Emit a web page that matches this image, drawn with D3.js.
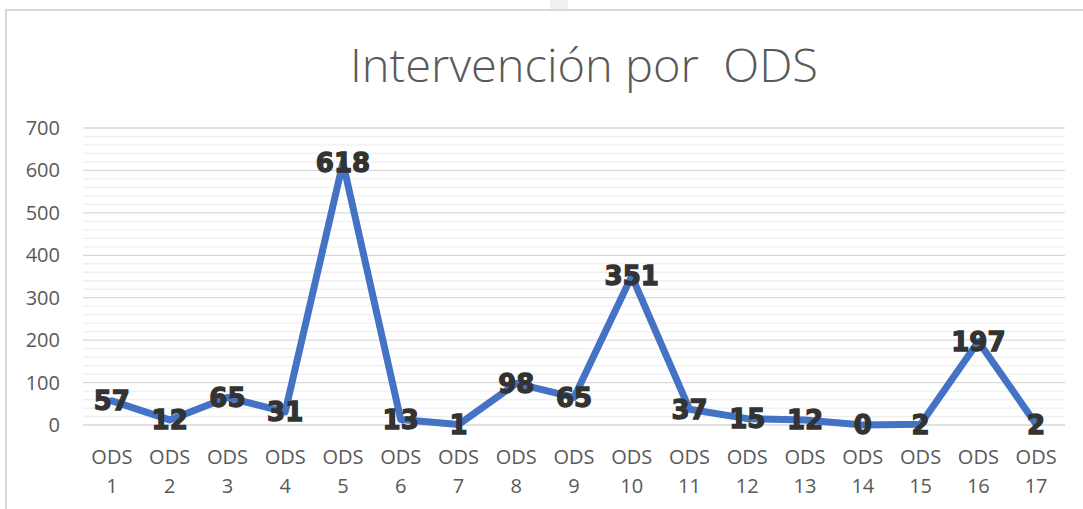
<!DOCTYPE html>
<html><head><meta charset="utf-8">
<script src="https://cdn.jsdelivr.net/npm/d3@7"></script>
<style>body{margin:0;background:#fff;}svg{display:block;}</style>
</head><body>
<svg id="c" width="1083" height="509"></svg>
<script>
const categories = ["ODS 1","ODS 2","ODS 3","ODS 4","ODS 5","ODS 6","ODS 7","ODS 8","ODS 9","ODS 10","ODS 11","ODS 12","ODS 13","ODS 14","ODS 15","ODS 16","ODS 17"];
const values = [57,12,65,31,618,13,1,98,65,351,37,15,12,0,2,197,2];
const yTicks = [0,100,200,300,400,500,600,700];
const minorTicks = d3.range(0,701,20);
const title = "Intervención por  ODS";

const svg = d3.select("#c");
svg.append("rect").attr("x",550).attr("y",0).attr("width",18).attr("height",9).attr("fill","#f0f0f0");
svg.append("path").attr("d","M6,509 V10 H1083").attr("fill","none").attr("stroke","#d9d9d9").attr("stroke-width",2);

const m = {l:83, r:1065, t:128, b:425};
const x = d3.scaleBand().domain(categories).range([m.l,m.r]);
const y = d3.scaleLinear().domain([0,700]).range([m.b,m.t]);

svg.append("g").selectAll("line").data(minorTicks.filter(d=>d%100!==0)).join("line")
  .attr("x1",m.l).attr("x2",m.r).attr("y1",d=>y(d)).attr("y2",d=>y(d))
  .attr("stroke","#efefef").attr("stroke-width",1.3);
svg.append("g").selectAll("line").data(yTicks).join("line")
  .attr("x1",m.l).attr("x2",m.r).attr("y1",d=>y(d)).attr("y2",d=>y(d))
  .attr("stroke","#d9d9d9").attr("stroke-width",1.3);

svg.append("g").selectAll("text").data(yTicks).join("text")
  .attr("x",60).attr("y",d=>y(d)).attr("dy","0.35em").attr("text-anchor","end")
  .attr("font-family","Open Sans").attr("font-size",20).attr("fill","#595959").text(d=>d);

const xl = svg.append("g").selectAll("text").data(categories).join("text")
  .attr("x",d=>x(d)+x.bandwidth()/2).attr("text-anchor","middle")
  .attr("font-family","Open Sans").attr("font-size",20).attr("fill","#595959");
xl.append("tspan").attr("x",d=>x(d)+x.bandwidth()/2).attr("y",464).text(d=>d.split(" ")[0]);
xl.append("tspan").attr("x",d=>x(d)+x.bandwidth()/2).attr("y",493).text(d=>d.split(" ")[1]);

const line = d3.line().x((d,i)=>x(categories[i])+x.bandwidth()/2).y(d=>y(d));
svg.append("path").datum(values).attr("d",line).attr("fill","none")
  .attr("stroke","#4472C4").attr("stroke-width",7).attr("stroke-linejoin","round").attr("stroke-linecap","round");

svg.append("g").selectAll("text").data(values).join("text")
  .attr("x",(d,i)=>x(categories[i])+x.bandwidth()/2).attr("y",d=>y(d)).attr("dy","0.36em")
  .attr("text-anchor","middle").attr("font-family","DejaVu Sans").attr("font-weight","bold")
  .attr("font-size",26).attr("fill","#333333").attr("stroke","#333333").attr("stroke-width",1.3).text(d=>d);

svg.append("text").attr("x",584).attr("y",82).attr("text-anchor","middle")
  .attr("font-family","Open Sans").attr("font-weight",300).attr("font-size",46)
  .attr("fill","#595959").attr("textLength",468).attr("lengthAdjust","spacingAndGlyphs")
  .style("white-space","pre").text(title);
</script>
</body></html>
